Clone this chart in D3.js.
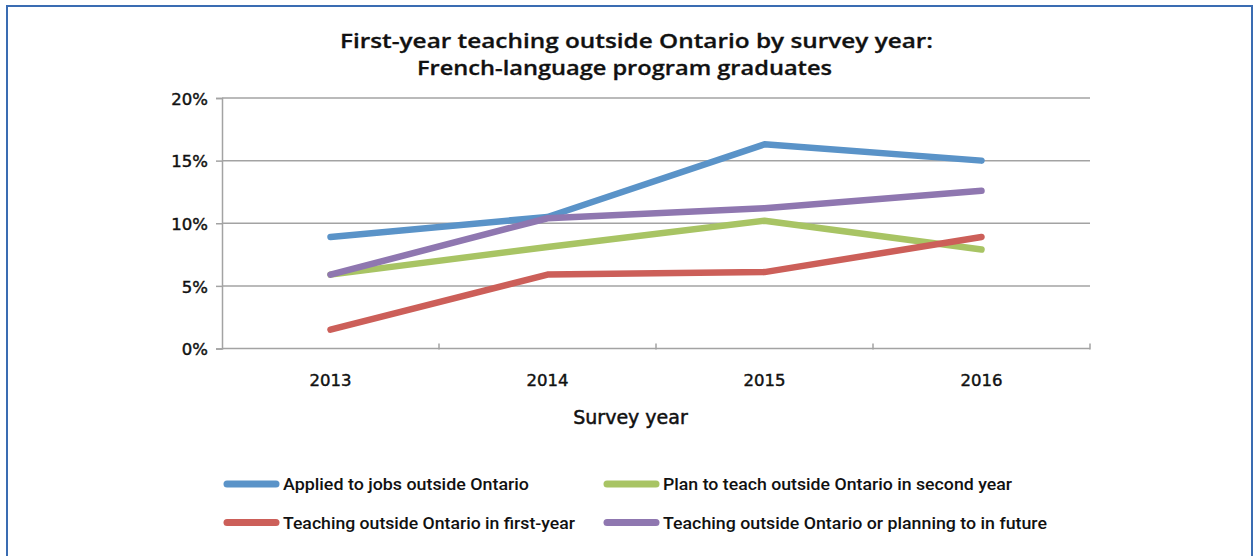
<!DOCTYPE html>
<html>
<head>
<meta charset="utf-8">
<script src="https://cdn.jsdelivr.net/npm/d3@7"></script>
<style>
  html, body { margin: 0; padding: 0; background: #fff; }
  svg { display: block; }
</style>
</head>
<body>
<svg id="chart" width="1255" height="556"></svg>
<script>
// Survey years and share of graduates (%) for each series
const years = ["2013", "2014", "2015", "2016"];
const appliedOutside = [8.9, 10.5, 16.3, 15.0];
const planSecondYear = [5.9, 8.1, 10.2, 7.9];
const teachingFirstYear = [1.5, 5.9, 6.1, 8.9];
const teachingOrPlanning = [5.9, 10.4, 11.2, 12.6];
const yTicks = [0, 5, 10, 15, 20];

const seriesNames = [
  "Applied to jobs outside Ontario",
  "Plan to teach outside Ontario in second year",
  "Teaching outside Ontario in first-year",
  "Teaching outside Ontario or planning to in future"
];
const seriesValues = [appliedOutside, planSecondYear, teachingFirstYear, teachingOrPlanning];
const seriesColors = ["#5a93c8", "#a8c464", "#cc5f59", "#8f77b0"];

(function drawChart() {
  const svg = d3.select("#chart");
  const titleFont = "'Open Sans', sans-serif";
  const axisFont = "'DejaVu Sans', sans-serif";
  const legendFont = "Roboto, sans-serif";
  const ink = "#111";

  // frame
  svg.append("path")
    .attr("d", "M7,560 V6 H1252 V560")
    .attr("fill", "none")
    .attr("stroke", "#3a6cb2")
    .attr("stroke-width", 2);

  // plot area
  const plotLeft = 222, plotRight = 1090, plotTop = 98, plotBottom = 348.5;
  const x = d3.scaleBand().domain(years).range([plotLeft, plotRight]);
  const y = d3.scaleLinear().domain([0, 20]).range([plotBottom, plotTop]);
  const gridColor = "#a3a3a3";

  // horizontal gridlines
  svg.append("g").selectAll("line")
    .data(yTicks.filter(t => t > 0))
    .join("line")
    .attr("x1", plotLeft).attr("x2", plotRight)
    .attr("y1", d => y(d)).attr("y2", d => y(d))
    .attr("stroke", gridColor).attr("stroke-width", 1.5);

  // y axis
  const yAxis = svg.append("g")
    .attr("transform", `translate(${plotLeft},0)`)
    .call(d3.axisLeft(y).tickValues(yTicks).tickSize(6).tickPadding(8).tickFormat(d => d + "%"));
  yAxis.select(".domain").attr("stroke", gridColor).attr("stroke-width", 1.5);
  yAxis.selectAll(".tick line").attr("stroke", gridColor).attr("stroke-width", 1.5);
  yAxis.selectAll(".tick text")
    .attr("font-family", axisFont)
    .attr("font-size", 16.5).attr("fill", ink)
    .attr("stroke", ink).attr("stroke-width", 0.45)
    .attr("dy", "0.38em");

  // x axis baseline with boundary ticks
  svg.append("line")
    .attr("x1", plotLeft).attr("x2", plotRight)
    .attr("y1", plotBottom).attr("y2", plotBottom)
    .attr("stroke", gridColor).attr("stroke-width", 1.5);
  const boundaries = years.map(d => x(d) + x.bandwidth());
  svg.append("g").selectAll("line")
    .data(boundaries)
    .join("line")
    .attr("x1", d => d).attr("x2", d => d)
    .attr("y1", plotBottom - 5).attr("y2", plotBottom + 1)
    .attr("stroke", gridColor).attr("stroke-width", 1.5);

  // category labels
  svg.append("g").selectAll("text")
    .data(years)
    .join("text")
    .attr("x", d => x(d) + x.bandwidth() / 2)
    .attr("y", 386)
    .attr("text-anchor", "middle")
    .attr("font-family", axisFont)
    .attr("font-size", 16.5).attr("fill", ink)
    .attr("stroke", ink).attr("stroke-width", 0.45)
    .text(d => d);

  // axis title
  svg.append("text")
    .attr("x", 630.5).attr("y", 424)
    .attr("text-anchor", "middle")
    .attr("font-family", axisFont)
    .attr("font-size", 19).attr("fill", ink)
    .attr("stroke", ink).attr("stroke-width", 0.5)
    .text("Survey year");

  // chart title, two lines
  const titleLines = [
    { text: "First-year teaching outside Ontario by survey year:", x: 340, y: 47.5, w: 593 },
    { text: "French-language program graduates", x: 417, y: 74.5, w: 415 }
  ];
  svg.append("g").selectAll("text")
    .data(titleLines)
    .join("text")
    .attr("x", d => d.x).attr("y", d => d.y)
    .attr("font-family", titleFont).attr("font-weight", 600)
    .attr("font-size", 19.6).attr("fill", ink)
    .attr("stroke", ink).attr("stroke-width", 0.3)
    .attr("textLength", d => d.w)
    .attr("lengthAdjust", "spacingAndGlyphs")
    .text(d => d.text);

  // series lines
  const line = d3.line()
    .x((d, i) => x(years[i]) + x.bandwidth() / 2)
    .y(d => y(d));
  svg.append("g").selectAll("path")
    .data(seriesValues)
    .join("path")
    .attr("d", d => line(d))
    .attr("fill", "none")
    .attr("stroke", (d, i) => seriesColors[i])
    .attr("stroke-width", 6.5)
    .attr("stroke-linecap", "round")
    .attr("stroke-linejoin", "round");

  // legend
  const legendItems = [
    { i: 0, x1: 227, x2: 276, tx: 283, y: 484, w: 246 },
    { i: 1, x1: 607, x2: 656, tx: 663, y: 484, w: 349 },
    { i: 2, x1: 227, x2: 276, tx: 283, y: 522.5, w: 292 },
    { i: 3, x1: 607, x2: 656, tx: 663, y: 522.5, w: 384 }
  ];
  const lg = svg.append("g").selectAll("g").data(legendItems).join("g");
  lg.append("line")
    .attr("x1", d => d.x1).attr("x2", d => d.x2)
    .attr("y1", d => d.y).attr("y2", d => d.y)
    .attr("stroke", d => seriesColors[d.i])
    .attr("stroke-width", 7)
    .attr("stroke-linecap", "round");
  lg.append("text")
    .attr("x", d => d.tx).attr("y", d => d.y + 6)
    .attr("font-family", legendFont).attr("font-weight", 500)
    .attr("font-size", 16.5).attr("fill", ink)
    .attr("textLength", d => d.w)
    .attr("lengthAdjust", "spacingAndGlyphs")
    .text(d => seriesNames[d.i]);
})();
</script>
</body>
</html>
